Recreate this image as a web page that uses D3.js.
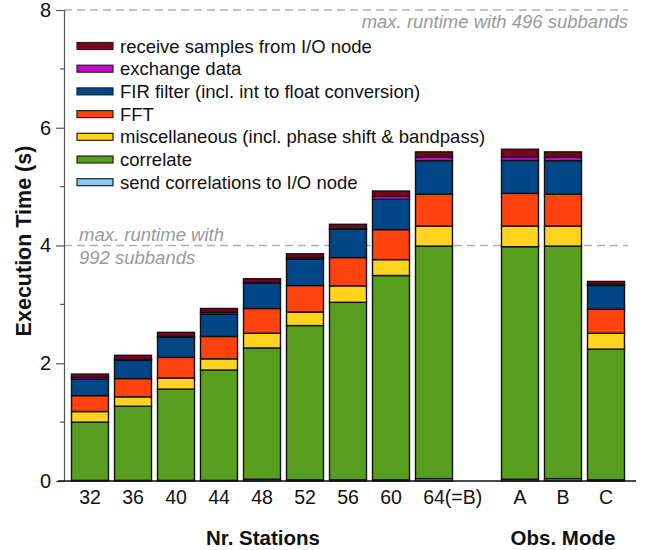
<!DOCTYPE html>
<html>
<head>
<meta charset="utf-8">
<script src="https://cdn.jsdelivr.net/npm/d3@7/dist/d3.min.js"></script>
<style>
  body { margin: 0; background: #fff; }
  svg { display: block; font-family: "Liberation Sans", Arial, sans-serif; }
</style>
</head>
<body>
<svg id="chart" width="649" height="550"></svg>
<script>
// Categories along the x axis (station counts, then observation modes)
const categories = ["32", "36", "40", "44", "48", "52", "56", "60", "64(=B)", "A", "B", "C"];

// Execution time per processing step, in seconds
const sendCorrelations = [0.01, 0.01, 0.01, 0.01, 0.03, 0.02, 0.02, 0.02, 0.04, 0.03, 0.04, 0.02];
const correlate        = [0.99, 1.26, 1.55, 1.875, 2.23, 2.62, 3.015, 3.47, 3.95, 3.95, 3.95, 2.22];
const miscellaneous    = [0.18, 0.16, 0.19, 0.19, 0.25, 0.23, 0.28, 0.27, 0.34, 0.35, 0.34, 0.27];
const fft              = [0.27, 0.31, 0.35, 0.38, 0.42, 0.45, 0.48, 0.51, 0.545, 0.555, 0.545, 0.41];
const firFilter        = [0.28, 0.31, 0.345, 0.38, 0.43, 0.45, 0.48, 0.515, 0.565, 0.56, 0.565, 0.40];
const exchangeData     = [0.03, 0.015, 0.01, 0.03, 0.01, 0.025, 0.01, 0.05, 0.06, 0.06, 0.06, 0.02];
const receiveSamples   = [0.056, 0.07, 0.07, 0.065, 0.065, 0.064, 0.075, 0.09, 0.09, 0.13, 0.09, 0.05];

// Series, listed bottom of the stack first
const seriesKeys   = ["send", "correlate", "misc", "fft", "fir", "exchange", "receive"];
const seriesLabels = ["send correlations to I/O node", "correlate",
  "miscellaneous (incl. phase shift & bandpass)", "FFT",
  "FIR filter (incl. int to float conversion)", "exchange data",
  "receive samples from I/O node"];
const seriesColors = ["#88c8f4", "#589e1e", "#ffd320", "#ff420e", "#004586", "#cc00cc", "#7e0021"];

// Y axis ticks and reference lines
const yMajorTicks = [0, 2, 4, 6, 8];
const yMinorTicks = [1, 3, 5, 7];
const limits = [
  { value: 8, lines: ["max. runtime with 496 subbands"] },
  { value: 4, lines: ["max. runtime with", "992 subbands"] }
];

const seriesValues = [sendCorrelations, correlate, miscellaneous, fft, firFilter, exchangeData, receiveSamples];
const rows = categories.map((c, i) => {
  const r = { cat: c };
  seriesKeys.forEach((k, j) => { r[k] = seriesValues[j][i]; });
  return r;
});

const svg = d3.select("#chart");

// Slot list includes an empty slot separating the two groups
const slots = ["32", "36", "40", "44", "48", "52", "56", "60", "64(=B)", "_gap", "A", "B", "C"];
const x = d3.scaleBand().domain(slots).range([68.5, 627.5]).paddingInner(0.14).paddingOuter(0.07);
const y = d3.scaleLinear().domain([0, 8]).range([481, 10]);

// Reference (dashed) lines with their captions
const refG = svg.append("g");
limits.forEach(l => {
  refG.append("line")
    .attr("x1", 64).attr("x2", 628)
    .attr("y1", y(l.value)).attr("y2", y(l.value))
    .attr("stroke", "#b0b0b0").attr("stroke-width", 1.3)
    .attr("stroke-dasharray", "8,5");
});
const capStyle = sel => sel.attr("font-style", "italic").attr("font-size", 18.5).attr("fill", "#9a9a9a");
refG.append("text")
  .attr("x", 628).attr("y", y(8) + 18)
  .attr("text-anchor", "end")
  .call(capStyle)
  .text(limits[0].lines[0]);
refG.append("text")
  .attr("x", 79).attr("y", y(4) - 5)
  .call(capStyle)
  .text(limits[1].lines[0]);
refG.append("text")
  .attr("x", 79).attr("y", y(4) + 18)
  .call(capStyle)
  .text(limits[1].lines[1]);

// Stacked bars
const stacked = d3.stack().keys(seriesKeys)(rows);
svg.append("g").selectAll("g")
  .data(stacked)
  .join("g")
    .attr("fill", (d, i) => seriesColors[i])
  .selectAll("rect")
  .data(d => d)
  .join("rect")
    .attr("x", d => x(d.data.cat))
    .attr("width", x.bandwidth())
    .attr("y", d => y(d[1]))
    .attr("height", d => y(d[0]) - y(d[1]))
    .attr("stroke", "#111")
    .attr("stroke-width", 1.4);

// Y axis
const yAxisG = svg.append("g").attr("transform", "translate(64,0)");
yAxisG.call(d3.axisLeft(y).tickValues(yMajorTicks).tickSize(8).tickPadding(5).tickFormat(d3.format("d")));
yAxisG.select(".domain").attr("stroke", "#555").attr("stroke-width", 1.2);
yAxisG.selectAll(".tick line").attr("stroke", "#555").attr("stroke-width", 1.2);
yAxisG.selectAll(".tick text")
  .attr("font-size", 20).attr("fill", "#111")
  .attr("font-family", "Liberation Sans, Arial, sans-serif");
yAxisG.selectAll(".minor")
  .data(yMinorTicks)
  .join("line")
    .attr("class", "minor")
    .attr("x1", -4).attr("x2", 0)
    .attr("y1", d => y(d)).attr("y2", d => y(d))
    .attr("stroke", "#555").attr("stroke-width", 1.2);

// X axis
svg.append("line")
  .attr("x1", 58).attr("x2", 636).attr("y1", y(0)).attr("y2", y(0))
  .attr("stroke", "#111").attr("stroke-width", 1.5);

// Category labels: the numeric part of each label sits centred under its bar,
// so a suffix such as "(=B)" trails off to the right
const xLabels = svg.append("g")
  .attr("font-size", 19.5).attr("fill", "#111");
categories.forEach(c => {
  const cx = x(c) + x.bandwidth() / 2;
  const head = c.replace(/\(.*$/, "");
  const t = xLabels.append("text").attr("y", 504).text(head);
  const headWidth = t.node().getComputedTextLength();
  t.text(c).attr("x", cx - headWidth / 2);
});

// Axis titles
svg.append("text")
  .attr("transform", "translate(31,241) rotate(-90)")
  .attr("text-anchor", "middle").attr("font-weight", "bold")
  .attr("font-size", 21.5).attr("fill", "#111")
  .text("Execution Time (s)");
svg.append("text")
  .attr("x", 263).attr("y", 545)
  .attr("text-anchor", "middle").attr("font-weight", "bold")
  .attr("font-size", 20.5).attr("fill", "#111")
  .text("Nr. Stations");
svg.append("text")
  .attr("x", x("B") + x.bandwidth() / 2) .attr("y", 545)
  .attr("text-anchor", "middle").attr("font-weight", "bold")
  .attr("font-size", 20.5).attr("fill", "#111")
  .text("Obs. Mode");

// Legend, top series first
const legendOrder = d3.range(seriesKeys.length).reverse();
const legend = svg.append("g");
legendOrder.forEach((si, row) => {
  const cy = 46 + row * 22.7;
  legend.append("rect")
    .attr("x", 77).attr("y", cy - 3.5)
    .attr("width", 36).attr("height", 7)
    .attr("fill", seriesColors[si])
    .attr("stroke", "#222").attr("stroke-width", 1.2);
  legend.append("text")
    .attr("x", 120).attr("y", cy + 6.5)
    .attr("font-size", 18.5).attr("fill", "#111")
    .text(seriesLabels[si]);
});
</script>
</body>
</html>
